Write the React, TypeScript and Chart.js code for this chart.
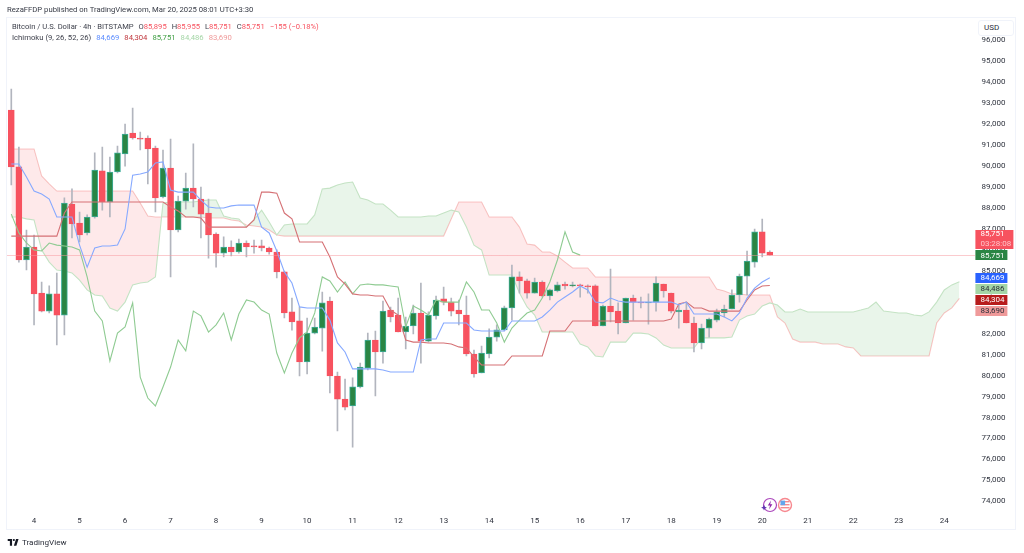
import React, { useEffect, useRef } from "react";
import { Chart, registerables } from "chart.js";

Chart.register(...registerables);

const dayLabels = ["4","5","6","7","8","9","10","11","12","13","14","15","16","17","18","19","20","21","22","23","24"];
const priceTicks = [96000,95000,94000,93000,92000,91000,90000,89000,88000,87000,86000,85000,84000,83000,82000,81000,80000,79000,78000,77000,76000,75000,74000];
const lastPrice = 85751;

const opens = [92680,89960,85520,86140,83940,83080,83900,82890,88190,87280,86810,87570,89770,88290,89720,90580,91580,91340,91340,90860,88530,89910,86950,88330,88950,88430,87760,86760,85850,86140,85900,86330,86190,86190,86090,85900,84950,83040,82610,80650,82030,82270,83560,79980,78880,78550,79460,80360,81700,81130,83130,82890,82080,82370,82990,81650,82850,83660,83510,83130,82890,81030,80130,81030,81840,82180,83230,84710,84520,83940,84470,83800,84040,84370,84280,84330,84280,84280,82370,83320,83080,82510,83700,83510,83470,83510,84370,83940,83040,83130,82510,81560,82270,82650,82990,83180,83850,84750,85420,86860,85895];
const highs = [93680,90910,86950,86710,84470,84280,84900,88480,88910,87810,87670,90630,90910,90430,90960,92010,92770,91630,91440,90960,90770,91290,88570,89670,91060,89000,88430,86810,86620,86430,86520,86430,86470,86470,86140,86000,84990,83700,83270,82750,82750,83990,83750,80170,79840,79890,80600,82030,82130,83560,83270,83700,82800,83370,84420,83040,83800,84230,83700,83610,83800,81220,81410,82230,82420,83320,85280,84950,84610,84660,84520,84130,84470,84470,84470,84370,84330,84330,83370,85090,83470,83700,83850,83750,83900,84710,84370,83940,83370,83510,82800,82460,82750,83180,83370,84090,84850,85950,87000,87470,85955];
const lows = [89100,85420,85040,82420,83040,82990,81460,81940,86570,86380,86710,87520,87900,87570,89670,90000,91290,90770,89150,87810,88480,84710,86860,87950,88050,86570,85610,85180,85660,85710,85850,85660,85850,85950,85800,84660,82750,82170,79980,80080,81990,81170,79170,77360,78360,76590,79410,80270,79030,80600,82560,82080,81270,81990,80600,81600,82700,83370,82850,82420,80940,79930,80130,80840,81650,82130,82650,83940,83700,83940,83750,83610,83990,84130,84230,83750,83940,82370,82370,82560,81990,82510,82650,83230,82460,83080,83750,82990,82270,82510,81130,81270,81840,82560,82800,83180,83510,83850,85180,85660,85751];
const closes = [89960,85520,86140,83900,83080,83900,82890,88240,87240,86710,87570,89810,88290,89720,90630,91530,91340,91290,90820,88480,89910,86950,88330,88950,88430,87710,86710,85850,86140,85900,86330,86140,86140,86090,85900,84950,82990,82560,80650,82030,82320,83470,79980,78880,78500,79460,80410,81700,81130,83080,82800,82080,82370,82990,81650,82890,83610,83510,83080,82940,81030,80080,81080,81840,82180,83230,84710,84520,83940,84470,83800,84090,84330,84280,84330,84280,84230,82370,83320,83040,82510,83700,83510,83470,83510,84420,84040,83080,83130,82510,81560,82270,82700,83040,83180,83850,84750,85470,86860,85850,85751];

const tenkan = [90100,90100,89480,88810,88670,88430,87570,87570,87570,86230,85180,86090,86190,86190,86230,87000,89570,89620,89720,90150,90200,88860,88760,88760,88760,88380,88050,88000,88000,88100,88140,88140,88140,87090,86810,85950,84950,84420,83280,83230,83230,83230,82650,81560,81130,80320,80320,80320,80320,80270,80170,80170,80170,80170,81700,81750,81750,82510,82510,82510,82510,82180,82130,82130,82130,82130,82610,82610,82610,82610,82800,83130,83510,83750,83990,84280,84090,83510,83470,83700,83560,83510,83510,83510,83510,83510,83510,83510,83370,83510,82940,82940,82940,82940,82800,82610,82990,83700,84180,84470,84669];
const kijun = [86660,86660,86660,86660,86660,86660,86660,87760,88290,88290,88290,88290,88290,88290,88290,88290,88290,88290,88290,88290,88290,88050,87860,87570,87570,87520,87090,87090,87090,87090,87090,87090,87430,88760,88760,88710,87760,87480,86380,86380,86380,86380,85660,84710,84370,83900,83850,83850,83800,83800,83130,82890,81700,81600,81600,81560,81560,81560,81510,81370,81320,80890,80510,80510,80510,80510,80940,80940,80940,80940,80940,82130,82130,82130,82610,82610,82610,82610,82610,82610,82610,82610,82610,82610,82610,82610,82610,82700,83420,83510,83230,83230,83080,83080,83080,83080,83080,83610,84090,84280,84304];
const chikou = [87710,86810,86330,86000,85950,86330,86230,86190,86140,86000,84710,83080,82610,80700,82030,82320,83470,79930,78930,78550,79460,80410,81700,81180,83080,82850,82080,82420,82990,81700,82940,83610,83510,83130,82940,81080,80130,81080,81800,82080,82990,84710,84520,83990,84470,83900,84330,84370,84330,84330,84280,84230,82320,83320,83130,82890,83610,83510,83510,83510,84470,83990,83130,83130,82510,81600,82270,82650,82990,83130,83700,84470,85520,86860,85900,85751];
const senkouA = [87570,87570,87480,87430,86000,85420,85040,84990,84900,84560,84090,83850,83800,83230,83080,83510,84330,84420,84470,84710,88240,88290,88290,88290,88290,88340,88380,88380,87620,87520,87480,87090,87430,87900,87330,86710,87190,87240,87240,87240,87670,88910,88950,89100,89190,89240,88480,88380,88190,88190,87900,87570,87570,87570,87570,87620,87620,87760,87900,87810,87090,86230,86000,84800,84800,84800,84800,83940,83280,82890,82080,82080,82080,82080,82080,81510,81370,80940,80890,81600,81600,81600,82030,82030,81990,81800,81460,81320,81320,81320,81320,81800,81800,81800,81800,81840,82650,82850,82940,83320,83470,83370,83040,83040,83180,83040,83040,83040,83040,83040,83040,83040,83130,83230,83510,83080,83040,82990,82990,82890,82850,83040,83510,84090,84330,84486];
const senkouB = [90820,90820,90820,90820,89530,89150,88810,88810,88810,88810,88810,88810,88810,88810,88810,88810,88810,88240,87620,87570,87570,87570,87570,87570,87570,87570,87520,87520,87520,87430,87380,87190,87140,87090,86950,86710,86660,86660,86660,86660,86660,86660,86660,86660,86660,86660,86660,86660,86660,86660,86660,86660,86660,86660,86660,86660,86660,86660,87480,88290,88290,88290,88290,87570,87570,87570,87570,87090,86280,86230,85900,85900,85710,85420,85140,85140,85140,84710,84710,84710,84710,84710,84710,84710,84710,84710,84710,84710,84710,84710,84710,84710,84710,84130,84040,83900,83900,83850,83850,83850,83850,82800,82510,81750,81600,81600,81600,81510,81510,81510,81370,81320,80940,80940,80940,80940,80940,80940,80940,80940,80940,80940,82510,82990,83230,83690];

const tags = [
  { value: 84669, bg: "#2962ff", fg: "#ffffff" },
  { value: 84486, bg: "#a5d6a7", fg: "#2a2e39" },
  { value: 84304, bg: "#b71c1c", fg: "#ffffff" },
  { value: 83690, bg: "#ef9a9a", fg: "#2a2e39" },
];

const RED = "#f7525f";
const GREEN = "#2a8544";
const FONT = "Roboto, sans-serif";

const fmt = (v: number) => v.toLocaleString("en-US");

const Legend = () => (
  <>
    <div style={{ position: "absolute", left: 7, top: 4, font: `7.7px/12px ${FONT}`, color: "#363a45", whiteSpace: "nowrap" }}>
      RezaFFDP published on TradingView.com, Mar 20, 2025 08:01 UTC+3:30
    </div>
    <div style={{ position: "absolute", left: 12, top: 21, font: `7.6px/12px ${FONT}`, color: "#3e414c", whiteSpace: "nowrap" }}>
      Bitcoin / U.S. Dollar · 4h · BITSTAMP
      <span style={{ marginLeft: 5 }}>O</span><span style={{ color: RED }}>85,895</span>
      <span style={{ marginLeft: 5 }}>H</span><span style={{ color: RED }}>85,955</span>
      <span style={{ marginLeft: 5 }}>L</span><span style={{ color: RED }}>85,751</span>
      <span style={{ marginLeft: 5 }}>C</span><span style={{ color: RED }}>85,751</span>
      <span style={{ marginLeft: 5, color: RED }}>−155 (−0.18%)</span>
    </div>
    <div style={{ position: "absolute", left: 12, top: 32, font: `7.7px/12px ${FONT}`, color: "#3e414c", whiteSpace: "nowrap" }}>
      Ichimoku (9, 26, 52, 26)
      <span style={{ marginLeft: 5, color: "#5b8cff" }}>84,669</span>
      <span style={{ marginLeft: 5, color: "#c0393f" }}>84,304</span>
      <span style={{ marginLeft: 5, color: "#43a047" }}>85,751</span>
      <span style={{ marginLeft: 5, color: "#a5d6a7" }}>84,486</span>
      <span style={{ marginLeft: 5, color: "#ef9a9a" }}>83,690</span>
    </div>
    <div style={{ position: "absolute", left: 978, top: 20, width: 36, height: 16, boxSizing: "border-box", background: "#fff", border: "1px solid #f0f3fa", borderRadius: 3, font: `8px/14px ${FONT}`, color: "#2a2e39", paddingLeft: 5 }}>
      USD
    </div>
    <svg style={{ position: "absolute", left: 7, top: 538 }} width="13" height="9" viewBox="0 0 36 22">
      <path fill="#131722" d="M14 1H2v6h6v13h6V1zm12 19h-7l6-19h7l-6 19zm-7-13a3 3 0 1 0 0-6 3 3 0 0 0 0 6z" />
    </svg>
    <div style={{ position: "absolute", left: 22, top: 536, font: `8.1px/12px ${FONT}`, color: "#2a2e39", whiteSpace: "nowrap" }}>TradingView</div>
    <svg style={{ position: "absolute", left: 760, top: 496 }} width="34" height="18" viewBox="0 0 34 18">
      <circle cx="10" cy="9" r="6.5" fill="#fff" stroke="#ab47bc" strokeWidth="1.2" />
      <path d="M11 4.5 7.8 9.6h2.2L9 13.5l3.4-5.2h-2.2z" fill="#8e24aa" />
      <path d="M4 8.8l.9 2 2 .9-2 .9-.9 2-.9-2-2-.9 2-.9z" fill="#5e35b1" />
      <circle cx="25" cy="9" r="6.5" fill="#fff" stroke="#f7888f" strokeWidth="1.4" />
      <rect x="20.5" y="5" width="9" height="1.4" fill="#f7888f" />
      <rect x="20.5" y="8" width="9" height="1.4" fill="#f7888f" />
      <rect x="20.5" y="11" width="9" height="1.4" fill="#f7888f" />
      <rect x="20.5" y="4.6" width="4.6" height="4.6" fill="#64a5ec" />
    </svg>
  </>
);

export default function App() {
  const ref = useRef<HTMLCanvasElement>(null);
  useEffect(() => {
    const labels = Array.from({ length: 128 }, (_, i) => ((i - 3) % 6 === 0 && dayLabels[(i - 3) / 6]) || "");
    const priceTags = {
      id: "priceTags",
      afterDraw(chart: any) {
        const { ctx, scales, chartArea } = chart;
        const y = scales.y;
        const ly = y.getPixelForValue(lastPrice);
        ctx.save();
        ctx.strokeStyle = "#f7969d";
        ctx.lineWidth = 1;
        ctx.setLineDash([1, 1]);
        ctx.beginPath();
        ctx.moveTo(chartArea.left, Math.round(ly) + 0.5);
        ctx.lineTo(chartArea.right - 3, Math.round(ly) + 0.5);
        ctx.stroke();
        ctx.setLineDash([]);
        const tagX = chartArea.right - 3;
        const tag = (cy: number, h: number, w: number, bg: string) => {
          ctx.fillStyle = bg;
          ctx.fillRect(tagX, Math.round(cy - h / 2), w, h);
        };
        ctx.font = `8px ${FONT}`;
        ctx.textBaseline = "middle";
        tag(ly - 16, 19, 38, RED);
        ctx.fillStyle = "#ffffff";
        ctx.fillText(fmt(lastPrice), tagX + 5, ly - 21);
        ctx.fillStyle = "#ffc4c9";
        ctx.fillText("03:28:08", tagX + 5, ly - 11.5);
        tag(ly, 10, 32, GREEN);
        ctx.fillStyle = "#ffffff";
        ctx.fillText(fmt(lastPrice), tagX + 5, ly + 0.5);
        let prev = -Infinity;
        tags.forEach((t) => {
          const cy = Math.max(y.getPixelForValue(t.value), prev + 11);
          prev = cy;
          tag(cy, 10, 32, t.bg);
          ctx.fillStyle = t.fg;
          ctx.fillText(fmt(t.value), tagX + 5, cy + 0.5);
        });
        ctx.restore();
      },
    };
    const line = (label: string, data: number[], color: string, order: number, extra: any = {}) => ({
      type: "line" as const, label, data, borderColor: color, borderWidth: 1.1, pointRadius: 0, tension: 0, fill: false, order, ...extra,
    });
    const chart = new Chart(ref.current!, {
      type: "bar",
      data: {
        labels,
        datasets: [
          line("Senkou A", senkouA, "#c4e3c4", 10, {
            fill: { target: 1, above: "rgba(76,175,80,0.12)", below: "rgba(247,82,95,0.13)" },
          }),
          line("Senkou B", senkouB, "#fbc9c9", 10),
          { label: "Wicks", data: lows.map((l, i) => [l, highs[i]]), backgroundColor: "#b2b5be", barThickness: 1, grouped: false, order: 6 } as any,
          {
            label: "Bodies",
            data: opens.map((o, i) => [o, closes[i]]),
            backgroundColor: opens.map((o, i) => (closes[i] >= o ? GREEN : RED)),
            borderColor: opens.map((o, i) => (closes[i] >= o ? "#3fae9a" : RED)),
            borderWidth: 1,
            borderSkipped: false,
            barThickness: 6,
            grouped: false,
            order: 5,
          } as any,
          line("Chikou", chikou, "#8fcb92", 3),
          line("Kijun", kijun, "#d57175", 2),
          line("Tenkan", tenkan, "#86a9ff", 1),
        ],
      },
      options: {
        animation: false,
        responsive: false,
        layout: { padding: { left: 7.5, top: 17, right: 0, bottom: 23 } },
        plugins: { legend: { display: false }, tooltip: { enabled: false } },
        scales: {
          x: {
            type: "category",
            offset: true,
            afterFit: (s: any) => { s.height = 20; },
            grid: { display: false, drawTicks: false },
            border: { display: false },
            ticks: { autoSkip: false, maxRotation: 0, padding: 6, color: "#2f333e", font: { family: FONT, size: 8 } },
          },
          y: {
            type: "linear",
            position: "right",
            min: 73586,
            max: 97117,
            afterFit: (s: any) => { s.width = 45.6; },
            afterBuildTicks: (s: any) => { s.ticks = priceTicks.map((value) => ({ value })); },
            grid: { display: false, drawTicks: false },
            border: { display: false },
            ticks: {
              autoSkip: false,
              padding: 3,
              color: "#2f333e",
              font: { family: FONT, size: 8 },
              callback: (v: any) => fmt(Number(v)),
            },
          },
        },
      },
      plugins: [priceTags],
    } as any);
    return () => chart.destroy();
  }, []);
  return (
    <div style={{ position: "absolute", left: 0, top: 0, width: 1024, height: 553, background: "#fff", overflow: "hidden" }}>
      <div style={{ position: "absolute", left: 6, top: 17, width: 1010, height: 513, boxSizing: "border-box", border: "1px solid #f0f3fa" }} />
      <canvas ref={ref} width={1024} height={553} style={{ position: "absolute", left: 0, top: 0 }} />
      <Legend />
    </div>
  );
}
